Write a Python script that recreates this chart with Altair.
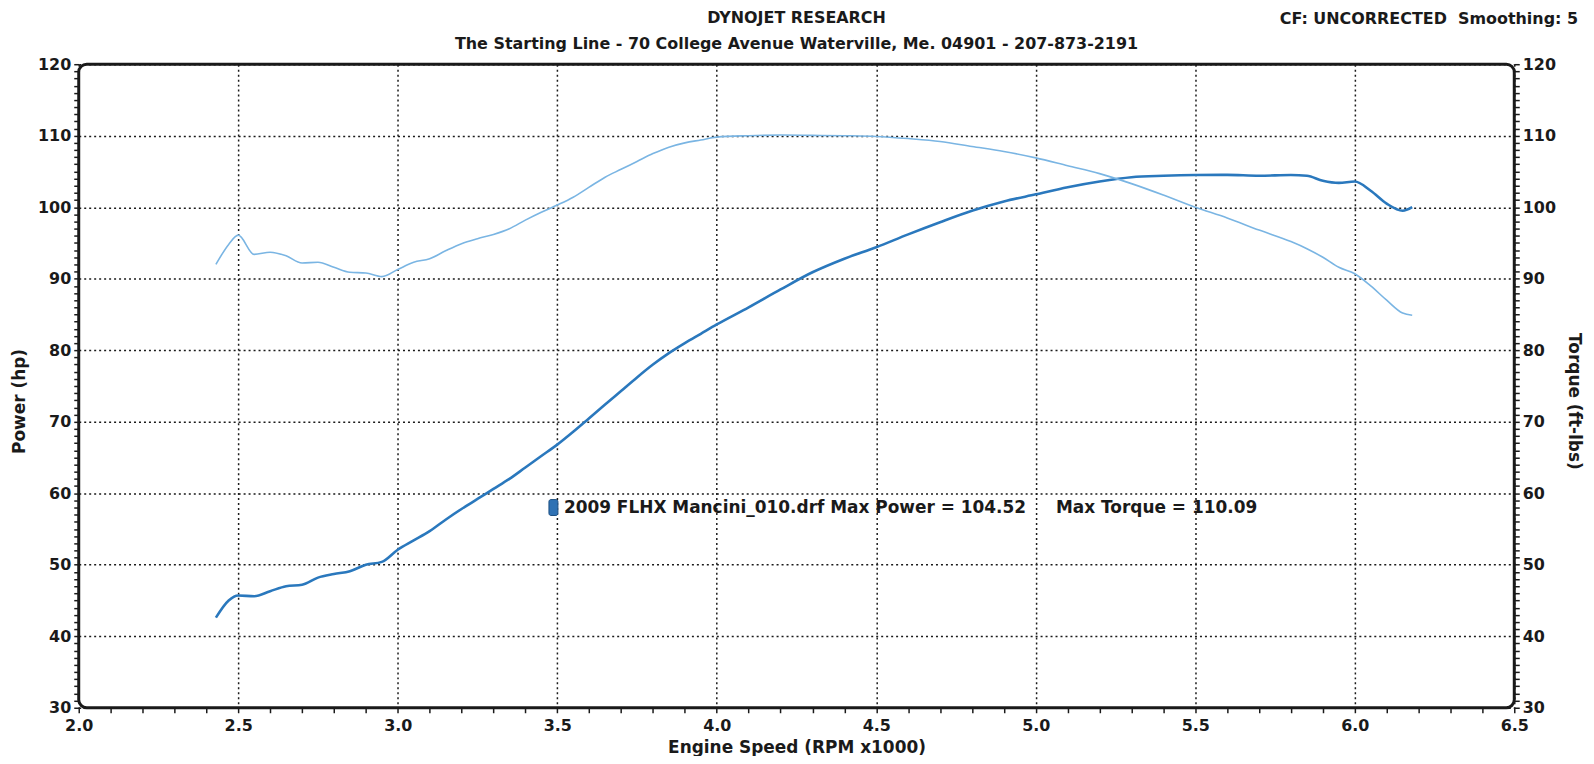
import altair as alt
import pandas as pd

# ---------------- data ----------------
rpm = [2.43, 2.47, 2.50,
       2.55, 2.60, 2.65, 2.70, 2.75, 2.80, 2.85, 2.90, 2.95, 3.00,
       3.05, 3.10, 3.15, 3.20, 3.25, 3.30, 3.35, 3.40, 3.45, 3.50,
       3.55, 3.60, 3.65, 3.70, 3.75, 3.80, 3.85, 3.90, 3.95, 4.00,
       4.10, 4.20, 4.30, 4.40, 4.50, 4.60, 4.70, 4.80, 4.90, 5.00,
       5.10, 5.20, 5.30, 5.40, 5.50, 5.60, 5.70, 5.80,
       5.85, 5.90, 5.95, 6.00, 6.05, 6.10, 6.15, 6.18]

power_hp = [42.6, 45.0, 45.7,
            45.6, 46.3, 47.0, 47.2, 48.2, 48.7, 49.1, 50.0, 50.4, 52.1,
            53.4, 54.7, 56.3, 57.8, 59.2, 60.6, 62.0, 63.6, 65.2, 66.8,
            68.6, 70.5, 72.4, 74.3, 76.2, 78.0, 79.6, 81.0, 82.3, 83.6,
            86.0, 88.5, 90.9, 92.8, 94.4, 96.2, 97.9, 99.5, 100.8, 101.8,
            102.8, 103.6, 104.2, 104.4, 104.5, 104.52, 104.4, 104.5,
            104.4, 103.7, 103.4, 103.6, 102.3, 100.5, 99.5, 100.0]

torque_ftlb = [92.0, 94.8, 96.1,
               93.4, 93.7, 93.2, 92.2, 92.3, 91.6, 90.9, 90.8, 90.3, 91.3,
               92.3, 92.8, 93.9, 94.9, 95.6, 96.2, 97.0, 98.2, 99.3, 100.3,
               101.4, 102.8, 104.2, 105.3, 106.4, 107.5, 108.4, 109.0, 109.4, 109.8,
               110.0, 110.09, 110.05, 110.0, 109.9, 109.6, 109.2, 108.5, 107.8, 106.9,
               105.8, 104.7, 103.3, 101.7, 100.0, 98.5, 96.8, 95.2,
               94.2, 93.0, 91.6, 90.7, 89.0, 87.0, 85.2, 84.9]

title_text = ["DYNOJET RESEARCH"]
subtitle_text = ["The Starting Line - 70 College Avenue Waterville, Me. 04901 - 207-873-2191"]
corner_text = ["CF: UNCORRECTED\u00a0\u00a0Smoothing: 5"]
run_label = ["2009 FLHX Mancini_010.drf Max Power = 104.52"]
torque_label = ["Max Torque = 110.09"]
x_title = "Engine Speed (RPM x1000)"
left_title = "Power (hp)"
right_title = "Torque (ft-lbs)"

x_ticks = [round(2.0 + 0.1 * i, 1) for i in range(46)]
y_ticks = list(range(30, 121))

# ---------------- chart ----------------
FONT = "DejaVu Sans"
INK = "#1a1a1a"
W, H = 1441, 646

df = pd.DataFrame({"rpm": rpm, "power": power_hp, "torque": torque_ftlb})

x_major = "abs(datum.value*2 - round(datum.value*2)) < 0.001"
y_major = "datum.value % 10 === 0"

x_scale = alt.Scale(domain=[2.0, 6.5], nice=False, zero=False)
y_scale = alt.Scale(domain=[30, 120], nice=False, zero=False)

common_axis = dict(
    domain=False, tickColor=INK, tickWidth=1.5, tickSize=5,
    labelFont=FONT, labelFontSize=16, labelFontWeight="bold", labelColor=INK,
    labelOverlap=False, labelFlush=False,
    titleFont=FONT, titleFontSize=17, titleFontWeight="bold", titleColor=INK,
)

x_axis = alt.Axis(
    orient="bottom",
    values=x_ticks,
    labelExpr=f"{x_major} ? format(datum.value, '.1f') : ''",
    grid=True, gridColor=INK, gridDash=[2, 3], gridWidth=1.5,
    gridOpacity={"condition": {"test": x_major, "value": 1}, "value": 0},
    labelBaseline="middle", labelPadding=13,
    title=x_title, titleBaseline="middle", titleY=40,
    **common_axis,
)

left_axis = alt.Axis(
    orient="left", values=y_ticks,
    labelExpr=f"{y_major} ? datum.label : ''",
    grid=True, gridColor=INK, gridDash=[2, 3], gridWidth=1.5,
    gridOpacity={"condition": {"test": y_major, "value": 1}, "value": 0},
    labelPadding=3, labelBaseline="middle",
    title=left_title, titleBaseline="middle", titleX=-59, titleY=338, titleAngle=-90,
    **common_axis,
)

right_axis = alt.Axis(
    orient="right", values=y_ticks,
    labelExpr=f"{y_major} ? datum.label : ''",
    grid=False, labelPadding=3, labelBaseline="middle",
    title=right_title, titleBaseline="middle", titleX=59, titleY=338, titleAngle=90,
    **common_axis,
)

x_enc = alt.X("rpm:Q", scale=x_scale, axis=x_axis)

power_line = alt.Chart(df).mark_line(
    color="#2a78bd", strokeWidth=2.6, interpolate="monotone"
).encode(
    x=x_enc,
    y=alt.Y("power:Q", scale=y_scale, axis=left_axis),
)

torque_line = alt.Chart(df).mark_line(
    color="#7ab5e3", strokeWidth=1.6, interpolate="monotone"
).encode(
    x=x_enc,
    y=alt.Y("torque:Q", scale=y_scale, axis=right_axis),
)


def label(values, x, y, size=16, align="left"):
    return alt.Chart(pd.DataFrame({"t": values})).mark_text(
        font=FONT, fontSize=size, fontWeight="bold", color=INK,
        align=align, baseline="middle",
    ).encode(text="t:N", x=alt.value(x), y=alt.value(y))


title_mark = label(title_text, W / 2, -46, 16, "center")
subtitle_mark = label(subtitle_text, W / 2, -20, 16, "center")
corner_mark = label(corner_text, 1505, -45, 16, "right")
run_mark = label(run_label, 487, 445, 17)
torque_mark = label(torque_label, 981, 445, 17)

icon = alt.Chart(pd.DataFrame({"t": ["icon"]})).mark_rect(
    color="#2f72b4", stroke="#1d4f82", strokeWidth=1, cornerRadius=2
).encode(
    x=alt.value(472), x2=alt.value(481), y=alt.value(437), y2=alt.value(453)
)

chart = alt.layer(
    power_line, torque_line,
    title_mark, subtitle_mark, corner_mark, icon, run_mark, torque_mark,
).resolve_scale(
    y="independent", x="shared"
).resolve_axis(
    x="shared"
).properties(
    width=W, height=H,
    autosize=alt.AutoSizeParams(type="none"),
    padding={"left": 71, "top": 55, "right": 72, "bottom": 47},
    background="white",
).configure_view(
    stroke=INK, strokeWidth=3, cornerRadius=8
)

chart.save("out.html", embed_options={"renderer": "svg", "actions": False})
